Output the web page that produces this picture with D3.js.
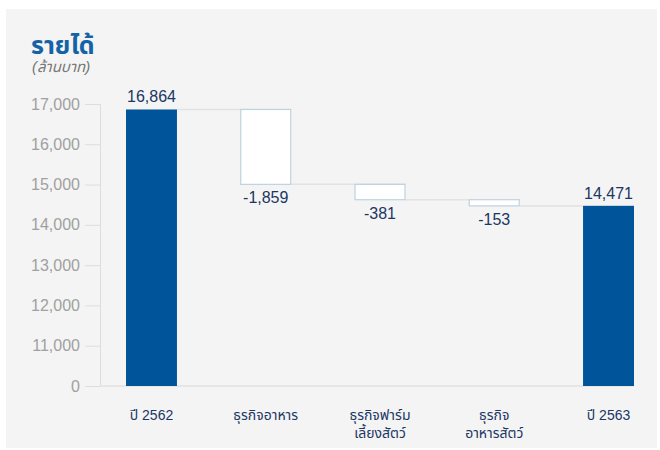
<html>

  <head>
    <meta charset="utf-8">
    <script src="https://d3js.org/d3.v7.min.js"></script>
    <style>
      body { margin: 0; background: #ffffff; }
      svg { display: block; font-family: "Liberation Sans", Arial, "Noto Sans Thai", sans-serif; }
    </style>
  </head>

    <body>
    </body>

    <script>
      //Data
      var categories = ["ปี 2562", "ธุรกิจอาหาร", "ธุรกิจฟาร์ม\nเลี้ยงสัตว์", "ธุรกิจ\nอาหารสัตว์", "ปี 2563"];
      var values = [16864, -1859, -381, -153, 14471];
      var kinds = ["total", "delta", "delta", "delta", "total"];
      var tickValues = [10000, 11000, 12000, 13000, 14000, 15000, 16000, 17000];
      var axisFloor = 10000;

      var width = 660;
      var height = 450;

      //Build waterfall steps
      var running = 0;
      var steps = categories.map(function(c, i) {
        var s;
        if (kinds[i] == "total") {
          s = { name: c, value: values[i], kind: "total", from: axisFloor, to: values[i] };
          running = values[i];
        } else {
          s = { name: c, value: values[i], kind: "delta", from: running, to: running + values[i] };
          running = running + values[i];
        }
        return s;
      });

      // d3 uses a unicode minus, the original uses a hyphen
      var fmt = function(v) { return d3.format(",")(v).replace("\u2212", "-"); };

      var svg = d3.select("body").append("svg")
                  .attr("width", width).attr("height", height);

      //Panel
      svg.append("rect")
         .attr("x", 6).attr("y", 9)
         .attr("width", 651).attr("height", 439)
         .attr("fill", "#f4f4f4");

      //Title
      svg.append("text")
         .attr("x", 31).attr("y", 54)
         .attr("font-size", "25px")
         .attr("font-weight", "bold")
         .attr("fill", "#1463a6")
         .text("รายได้");
      svg.append("text")
         .attr("x", 32).attr("y", 72)
         .attr("font-size", "15px")
         .attr("font-style", "italic")
         .attr("fill", "#777777")
         .text("(ล้านบาท)");

      //Scales
      var x = d3.scaleBand()
                .domain(categories)
                .range([126, 634])
                .paddingInner(0.554)
                .paddingOuter(0);
      var y = d3.scaleLinear()
                .domain([axisFloor, 17000])
                .range([386, 104]);

      //Y axis
      var yAxis = d3.axisLeft(y)
                    .tickValues(tickValues)
                    .tickSize(15)
                    .tickPadding(5)
                    .tickFormat(function(d) { return d == axisFloor ? "0" : fmt(d); });
      var gy = svg.append("g")
                  .attr("transform", "translate(100,0)")
                  .call(yAxis);
      gy.select(".domain").attr("stroke", "#dddddd").attr("d", "M0.5," + y(17000) + "V" + y(axisFloor));
      gy.selectAll(".tick line").attr("stroke", "#dddddd");
      gy.selectAll(".tick text")
        .attr("fill", "#a0a0a0")
        .attr("font-size", "16px")
        .attr("font-family", "\"Liberation Sans\", Arial, sans-serif");

      //Baseline
      svg.append("line")
         .attr("x1", 100).attr("x2", 634)
         .attr("y1", y(axisFloor)).attr("y2", y(axisFloor))
         .attr("stroke", "#e2e2e2").attr("stroke-width", 1.5);

      //Connectors
      svg.selectAll(".connector")
         .data(steps.slice(0, steps.length - 1))
         .enter()
         .append("line")
         .attr("class", "connector")
         .attr("x1", function(d) { return x(d.name) + x.bandwidth(); })
         .attr("x2", function(d, i) { return x(steps[i + 1].name) + x.bandwidth(); })
         .attr("y1", function(d) { return y(d.to); })
         .attr("y2", function(d) { return y(d.to); })
         .attr("stroke", "#e2e2e2")
         .attr("stroke-width", 1.5);

      //Bars
      svg.selectAll(".bar")
         .data(steps)
         .enter()
         .append("rect")
         .attr("class", "bar")
         .attr("x", function(d) { return d.kind == "total" ? x(d.name) : x(d.name) + 0.5; })
         .attr("width", function(d) { return d.kind == "total" ? x.bandwidth() : x.bandwidth() - 1; })
         .attr("y", function(d) { return y(Math.max(d.from, d.to)); })
         .attr("height", function(d) { return Math.abs(y(d.from) - y(d.to)); })
         .attr("fill", function(d) { return d.kind == "total" ? "#00559a" : "#ffffff"; })
         .attr("stroke", function(d) { return d.kind == "total" ? "none" : "#bfd2e0"; })
         .attr("stroke-width", 1.2);

      //Value labels
      svg.selectAll(".value")
         .data(steps)
         .enter()
         .append("text")
         .attr("class", "value")
         .attr("x", function(d) { return x(d.name) + x.bandwidth() / 2; })
         .attr("y", function(d) {
           return d.kind == "total" ? y(d.to) - 7 : y(Math.min(d.from, d.to)) + 19;
         })
         .attr("text-anchor", "middle")
         .attr("font-size", "16px")
         .attr("fill", "#1b3763")
         .text(function(d) { return fmt(d.value); });

      //Category labels
      var cat = svg.selectAll(".cat")
                   .data(steps)
                   .enter()
                   .append("text")
                   .attr("class", "cat")
                   .attr("x", function(d) { return x(d.name) + x.bandwidth() / 2; })
                   .attr("y", 420)
                   .attr("text-anchor", "middle")
                   .attr("font-size", "14px")
                   .attr("fill", "#1b3763");
      cat.selectAll("tspan")
         .data(function(d) { return d.name.split("\n"); })
         .enter()
         .append("tspan")
         .attr("x", function() { return d3.select(this.parentNode).attr("x"); })
         .attr("dy", function(d, i) { return i == 0 ? 0 : 18; })
         .text(function(d) { return d; });
    </script>

</html>
